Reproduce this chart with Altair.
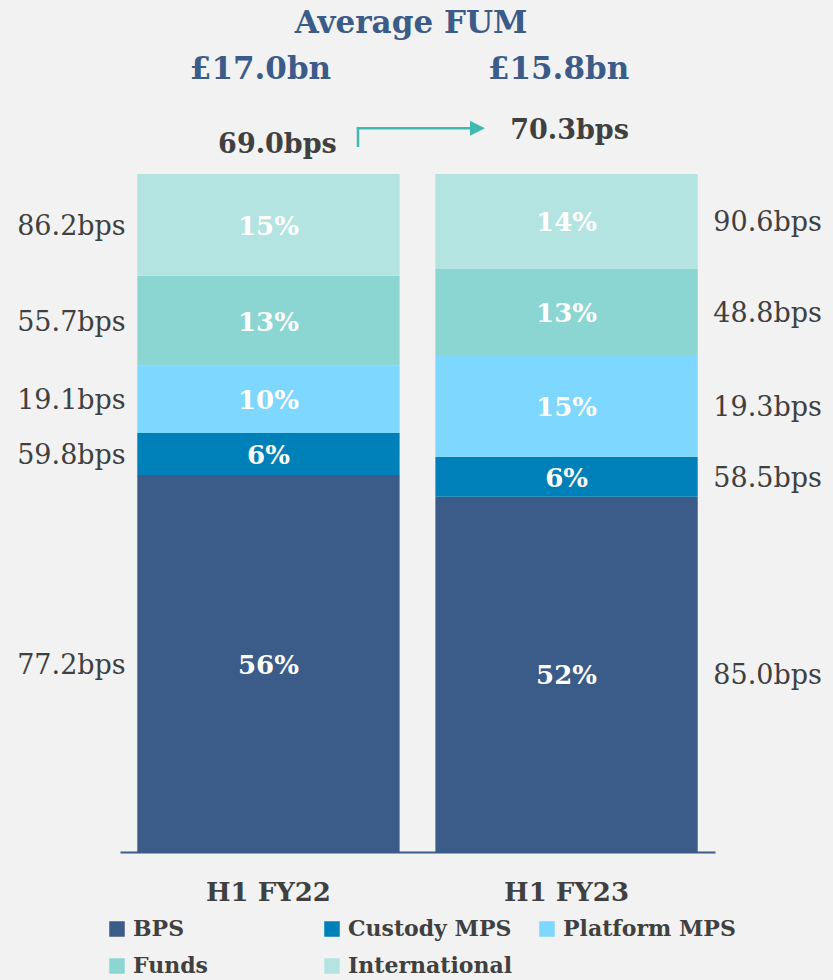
import altair as alt
import pandas as pd

# ---- data ----
periods = ["H1 FY22", "H1 FY23"]
segments = ["BPS", "Custody MPS", "Platform MPS", "Funds", "International"]
share_fy22 = [55.6, 6.2, 9.9, 13.3, 15.0]      # % of average FUM
share_fy23 = [52.4, 5.9, 15.0, 12.7, 14.0]
bps_fy22 = [77.2, 59.8, 19.1, 55.7, 86.2]       # revenue margin, bps
bps_fy23 = [85.0, 58.5, 19.3, 48.8, 90.6]
fum_bn = [17.0, 15.8]                            # average FUM, £bn
avg_bps = [69.0, 70.3]                           # overall margin, bps
title_text = "Average FUM"

colors = ["#3b5b88", "#0080b9", "#7dd7ff", "#8bd6d2", "#b3e4e1"]
FONT = "DejaVu Serif"
GREY = "#404040"
BLUE = "#3b5b88"
TEAL = "#3fbab2"

rows = []
for p, shares, bps in ((periods[0], share_fy22, bps_fy22), (periods[1], share_fy23, bps_fy23)):
    for i, (s, sh, b) in enumerate(zip(segments, shares, bps)):
        rows.append({"period": p, "segment": s, "idx": i, "share": sh, "bps": b})
df = pd.DataFrame(rows)
top_df = pd.DataFrame({"period": periods, "fum": fum_bn, "avg": avg_bps})

x_enc = alt.X(
    "period:N", sort=periods,
    scale=alt.Scale(domain=periods, paddingInner=0.12, paddingOuter=0.058),
    axis=alt.Axis(title=None, labelAngle=0, labelFont=FONT, labelFontSize=26,
                  labelFontWeight="bold", labelColor=GREY, labelPadding=27,
                  ticks=False, domainColor=BLUE, domainWidth=2, grid=False),
)
y_scale = alt.Scale(domain=[0, 100], nice=False, zero=True)

base = alt.Chart(df).transform_stack(
    stack="share", groupby=["period"], as_=["y0", "y1"],
    sort=[alt.SortField("idx", order="ascending")],
).transform_calculate(
    mid="(datum.y0 + datum.y1) / 2",
    pct="format(datum.share, '.0f') + '%'",
    bpslab="format(datum.bps, '.1f') + 'bps'",
)

bars = base.mark_bar(strokeWidth=0).encode(
    x=x_enc,
    y=alt.Y("y0:Q", scale=y_scale, axis=None),
    y2="y1:Q",
    color=alt.Color(
        "segment:N", sort=segments,
        scale=alt.Scale(domain=segments, range=colors),
        legend=alt.Legend(
            title=None, orient="none", legendX=-14, legendY=744,
            direction="horizontal", columns=3, gridAlign="all",
            symbolType="square", symbolSize=240, symbolStrokeWidth=0,
            symbolOpacity=1, labelFont=FONT, labelFontSize=22,
            labelFontWeight="bold", labelColor=GREY, labelOffset=5,
            columnPadding=15, rowPadding=15, labelLimit=400,
        ),
    ),
    order=alt.Order("idx:Q"),
)

pct = base.mark_text(font=FONT, fontSize=26, fontWeight="bold", color="white",
                     baseline="middle", dy=2).encode(
    x=x_enc, y=alt.Y("mid:Q", scale=y_scale), text="pct:N")

bps_left = base.transform_filter(alt.datum.period == periods[0]).mark_text(
    font=FONT, fontSize=27, color=GREY, baseline="middle", dx=-197, dy=2).encode(
    x=x_enc, y=alt.Y("mid:Q", scale=y_scale), text="bpslab:N")
bps_right = base.transform_filter(alt.datum.period == periods[1]).mark_text(
    font=FONT, fontSize=27, color=GREY, baseline="middle", dx=201, dy=2).encode(
    x=x_enc, y=alt.Y("mid:Q", scale=y_scale), text="bpslab:N")

top = alt.Chart(top_df).transform_calculate(
    fumlab="'£' + format(datum.fum, '.1f') + 'bn'",
    avglab="format(datum.avg, '.1f') + 'bps'",
)
fum_text = top.mark_text(font=FONT, fontSize=31, fontWeight="bold", color=BLUE,
                         baseline="alphabetic", dx=-8).encode(
    x=x_enc, y=alt.value(-95), text="fumlab:N")
avg_left = top.transform_filter(alt.datum.period == periods[0]).mark_text(
    font=FONT, fontSize=27, fontWeight="bold", color=GREY, baseline="alphabetic",
    dx=9).encode(x=x_enc, y=alt.value(-21), text="avglab:N")
avg_right = top.transform_filter(alt.datum.period == periods[1]).mark_text(
    font=FONT, fontSize=27, fontWeight="bold", color=GREY, baseline="alphabetic",
    dx=3).encode(x=x_enc, y=alt.value(-35), text="avglab:N")

title = alt.Chart(pd.DataFrame({"t": [title_text]})).mark_text(
    font=FONT, fontSize=31, fontWeight="bold", color=BLUE, baseline="alphabetic").encode(
    x=alt.value(291), y=alt.value(-141), text="t:N")

arrow_df = pd.DataFrame({"a": [1]})
arrow_v = alt.Chart(arrow_df).mark_rule(color=TEAL, strokeWidth=2.5).encode(
    x=alt.value(238), y=alt.value(-27), y2=alt.value(-47))
arrow_h = alt.Chart(arrow_df).mark_rule(color=TEAL, strokeWidth=2.5).encode(
    x=alt.value(236.75), x2=alt.value(352), y=alt.value(-45.7))
arrow_head = alt.Chart(arrow_df).mark_point(
    shape="M-1,-1L1,0L-1,1Z", filled=True, color=TEAL, opacity=1, size=225,
    strokeWidth=0).encode(x=alt.value(357.5), y=alt.value(-45.7))

chart = alt.layer(
    bars, pct, bps_left, bps_right, fum_text, avg_left, avg_right, title,
    arrow_v, arrow_h, arrow_head,
).properties(
    width=595, height=678,
    autosize=alt.AutoSizeParams(type="none"),
    padding={"left": 120, "top": 174, "right": 118, "bottom": 128},
    background="#f2f2f2",
).configure_view(strokeWidth=0)

chart.save("out.html", embed_options={"renderer": "svg", "actions": False})
